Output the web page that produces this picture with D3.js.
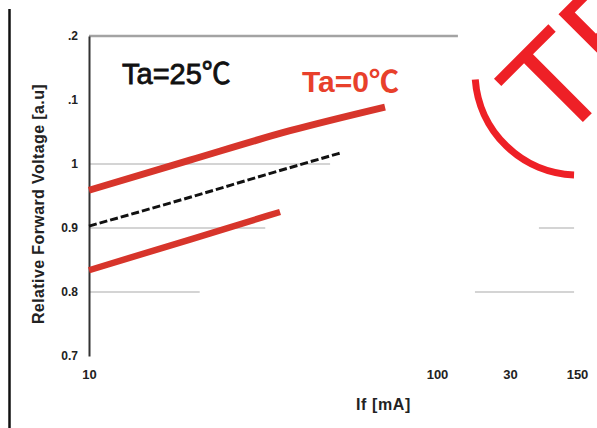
<!DOCTYPE html>
<html>
<head>
<meta charset="utf-8">
<script src="https://cdn.jsdelivr.net/npm/d3@7"></script>
<style>
  body { margin: 0; background: #fff; }
  svg { display: block; }
</style>
</head>
<body>
<svg id="chart" width="597" height="428"></svg>
<script>
// Axis ticks as printed on the sheet
const yTicks = [0.7, 0.8, 0.9, 1.0, 1.1, 1.2];
const yTickLabels = ["0.7", "0.8", "0.9", "1", ".1", ".2"];
const xTicks = [10, 100, 300, 500];
const xTickLabels = ["10", "100", "30", "150"];

// Curves: forward current [mA] vs relative forward voltage
const ifUpper = [10, 19.5, 37.8, 70.9];
const vUpper = [0.959, 1.006, 1.052, 1.089];
const if25 = [10, 19.5, 32.1, 52.6];
const v25 = [0.903, 0.948, 0.983, 1.017];
const ifLower = [10, 19.5, 35.4];
const vLower = [0.834, 0.882, 0.925];

// Broken grid line pieces (value, from If, to If)
const gridV = [1.0, 0.9, 0.9, 0.8, 0.8];
const gridFrom = [10, 10, 374, 10, 177];
const gridTo = [49.3, 32.1, 489, 20.8, 489];
const frameTo = 137;

const svg = d3.select("#chart");
const font = "'Liberation Sans', Arial, 'Noto Sans CJK JP', sans-serif";

const x = d3.scaleLog().domain([10, 100, 300, 500]).range([89, 437, 510, 577]);
const y = d3.scaleLinear().domain([0.7, 1.2]).range([356, 36]);

// outer page border on the left
svg.append("line")
    .attr("x1", 9.5).attr("x2", 9.5)
    .attr("y1", 9).attr("y2", 428)
    .attr("stroke", "#111")
    .attr("stroke-width", 2.5);

// grid pieces
gridV.forEach((v, i) => {
    svg.append("line")
        .attr("x1", x(gridFrom[i])).attr("x2", x(gridTo[i]))
        .attr("y1", y(v)).attr("y2", y(v))
        .attr("stroke", "#d4d4d4")
        .attr("stroke-width", 2);
});

// top frame
svg.append("line")
    .attr("x1", x(10)).attr("x2", x(frameTo))
    .attr("y1", y(1.2)).attr("y2", y(1.2))
    .attr("stroke", "#a3a3a3")
    .attr("stroke-width", 2.5);

// y axis
const yAxis = svg.append("g")
    .attr("transform", `translate(${x(10)},0)`)
    .call(d3.axisLeft(y).tickValues(yTicks).tickSize(0).tickPadding(11)
        .tickFormat((d, i) => yTickLabels[i]));
yAxis.select(".domain").attr("stroke", "#333").attr("stroke-width", 2);
yAxis.selectAll("text")
    .attr("font-family", font)
    .attr("font-weight", "bold")
    .attr("font-size", 12)
    .attr("fill", "#222");

// x axis (labels only)
const xAxis = svg.append("g")
    .attr("transform", `translate(0,${y(0.7)})`)
    .call(d3.axisBottom(x).tickValues(xTicks).tickSize(0).tickPadding(14)
        .tickFormat((d, i) => xTickLabels[i]));
xAxis.select(".domain").remove();
xAxis.selectAll("text")
    .attr("font-family", font)
    .attr("font-weight", "bold")
    .attr("font-size", 13)
    .attr("fill", "#222");

// axis titles
svg.append("text")
    .attr("transform", "translate(44,204) rotate(-90)")
    .attr("text-anchor", "middle")
    .attr("font-family", font)
    .attr("font-weight", "bold")
    .attr("font-size", 16)
    .attr("letter-spacing", 0.4)
    .attr("fill", "#222")
    .text("Relative Forward Voltage [a.u]");

svg.append("text")
    .attr("x", 356).attr("y", 410)
    .attr("font-family", font)
    .attr("font-weight", "bold")
    .attr("font-size", 16)
    .attr("letter-spacing", 0.6)
    .attr("fill", "#222")
    .text("If [mA]");

// curves
const line = d3.line()
    .x(d => x(d[0]))
    .y(d => y(d[1]))
    .curve(d3.curveMonotoneX);

svg.append("path")
    .datum(d3.zip(ifUpper, vUpper))
    .attr("fill", "none")
    .attr("stroke", "#d7352b")
    .attr("stroke-width", 7)
    .attr("d", line);

svg.append("path")
    .datum(d3.zip(ifLower, vLower))
    .attr("fill", "none")
    .attr("stroke", "#d7352b")
    .attr("stroke-width", 6.5)
    .attr("d", line);

svg.append("path")
    .datum(d3.zip(if25, v25))
    .attr("fill", "none")
    .attr("stroke", "#111")
    .attr("stroke-width", 3)
    .attr("stroke-dasharray", "8,3")
    .attr("d", line);

// labels
svg.append("text")
    .attr("x", 122).attr("y", 84)
    .attr("font-family", font)
    .attr("font-size", 29)
    .attr("fill", "#111")
    .attr("stroke", "#111")
    .attr("stroke-width", 0.8)
    .text("Ta=25℃");

svg.append("text")
    .attr("x", 302).attr("y", 92)
    .attr("font-family", font)
    .attr("font-weight", "bold")
    .attr("font-size", 30)
    .attr("fill", "#e8402b")
    .text("Ta=0℃");

// red stamp in the corner
svg.append("path")
    .attr("transform", "translate(578,72)")
    .attr("fill", "none")
    .attr("stroke", "#ee2026")
    .attr("stroke-width", 7)
    .attr("d", d3.arc()({innerRadius: 103, outerRadius: 103, startAngle: 3.18, endAngle: 4.64}));

svg.append("text")
    .attr("transform", "translate(558,147) rotate(-45)")
    .attr("font-family", font)
    .attr("font-size", 136)
    .attr("fill", "#ee2026")
    .text("TE");
</script>
</body>
</html>
